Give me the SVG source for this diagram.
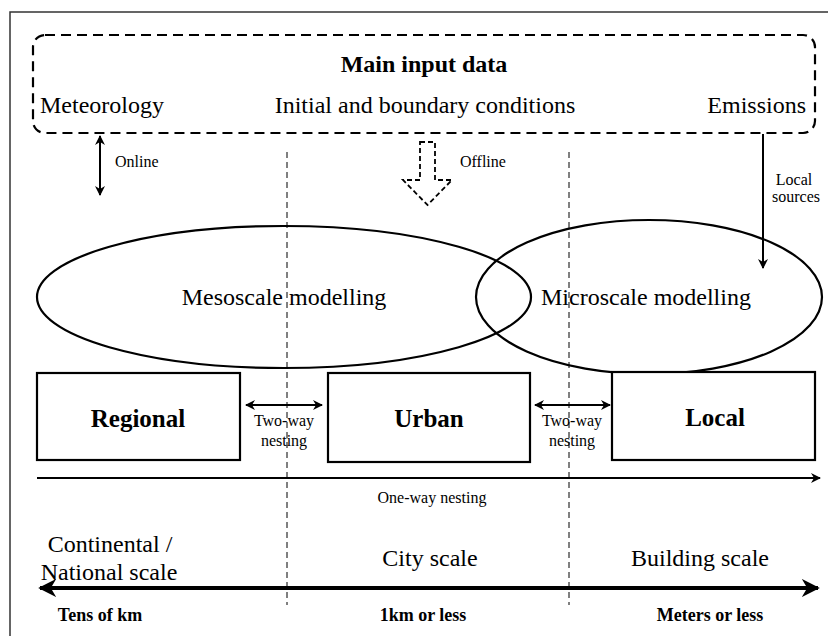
<svg xmlns="http://www.w3.org/2000/svg" width="828" height="636" viewBox="0 0 828 636">
  <defs>
    <style>
      text { font-family: "Liberation Serif", "Times New Roman", serif; fill: #000; }
      .mid { text-anchor: middle; }
      .big { font-size: 24px; }
      .box { font-size: 25px; font-weight: bold; }
      .bold { font-weight: bold; }
      .small { font-size: 16px; }
      .unit { font-size: 18px; font-weight: bold; }
      .shape { fill: #fff; stroke: #000; stroke-width: 2.2; }
      .ell { fill: none; stroke: #000; stroke-width: 2.2; }
      .guide { fill: none; stroke: #000; stroke-width: 1; stroke-dasharray: 6 4; }
      .line { fill: none; stroke: #000; stroke-width: 2; }
    </style>
    <marker id="ah" viewBox="0 0 10 10" refX="9" refY="5" markerWidth="5" markerHeight="5" orient="auto-start-reverse">
      <path d="M0,0 L10,5 L0,10 L3,5 Z" fill="#000"/>
    </marker>
    <marker id="ahBig" viewBox="0 0 10 10" refX="9" refY="5" markerWidth="4.5" markerHeight="4.5" orient="auto-start-reverse">
      <path d="M0,0 L10,5 L0,10 L3,5 Z" fill="#000"/>
    </marker>
  </defs>

  <rect width="828" height="636" fill="#fff"/>
  <!-- outer frame (left and top edges) -->
  <path d="M10,640 L10,12 L832,12" fill="none" stroke="#333" stroke-width="1.5"/>

  <!-- vertical scale separators -->
  <g id="separators">
    <line class="guide" x1="287" y1="152" x2="287" y2="605"/>
    <line class="guide" x1="569" y1="152" x2="569" y2="605"/>
  </g>

  <g id="input-data">
    <rect x="33" y="35" width="782" height="98" rx="12" fill="none" stroke="#000" stroke-width="2.2" stroke-dasharray="10 6"/>
    <text class="mid big bold" x="424" y="72">Main input data</text>
    <text class="big" x="40" y="113">Meteorology</text>
    <text class="mid big" x="425" y="113">Initial and boundary conditions</text>
    <text class="big" x="806" y="113" text-anchor="end">Emissions</text>
  </g>

  <g id="mesoscale">
    <ellipse class="ell" cx="284" cy="297" rx="247" ry="71"/>
    <text class="mid big" x="284" y="305">Mesoscale modelling</text>
  </g>
  <g id="microscale">
    <ellipse class="ell" cx="649" cy="297" rx="173" ry="77"/>
    <text class="mid big" x="646" y="305">Microscale modelling</text>
  </g>

  <g id="regional">
    <rect class="shape" x="37" y="373" width="203" height="87"/>
    <text class="mid box" x="138" y="427">Regional</text>
  </g>
  <g id="urban">
    <rect class="shape" x="328" y="373" width="202" height="89"/>
    <text class="mid box" x="429" y="427">Urban</text>
  </g>
  <g id="local">
    <rect class="shape" x="612" y="372" width="203" height="88"/>
    <text class="mid box" x="715" y="426">Local</text>
  </g>

  <g id="connectors">
    <!-- online coupling -->
    <line class="line" x1="100" y1="136" x2="100" y2="195" marker-start="url(#ah)" marker-end="url(#ah)"/>
    <text class="small" x="115" y="167">Online</text>
    <!-- offline coupling (hollow dashed arrow) -->
    <path d="M420,142 L435,142 L435,180 L452,180 L427.5,205 L403,180 L420,180 Z" fill="#fff" stroke="#000" stroke-width="1.8" stroke-dasharray="5 3"/>
    <text class="small" x="460" y="167">Offline</text>
    <!-- local sources -->
    <line class="line" x1="763" y1="134" x2="763" y2="268" marker-end="url(#ah)"/>
    <text class="mid small" x="794" y="185">Local</text>
    <text class="mid small" x="796" y="202">sources</text>
    <!-- two-way nesting -->
    <line class="line" x1="246" y1="405" x2="322" y2="405" marker-start="url(#ah)" marker-end="url(#ah)"/>
    <text class="mid small" x="284" y="426">Two-way</text>
    <text class="mid small" x="284" y="446">nesting</text>
    <line class="line" x1="535" y1="405" x2="610" y2="405" marker-start="url(#ah)" marker-end="url(#ah)"/>
    <text class="mid small" x="572" y="426">Two-way</text>
    <text class="mid small" x="572" y="446">nesting</text>
    <!-- one-way nesting -->
    <line class="line" x1="37" y1="478" x2="820" y2="478" marker-end="url(#ah)"/>
    <text class="mid small" x="432" y="503">One-way  nesting</text>
    <!-- scale axis -->
    <line x1="40" y1="588" x2="818" y2="588" stroke="#000" stroke-width="4" marker-start="url(#ahBig)" marker-end="url(#ahBig)"/>
  </g>

  <g id="scales">
    <text class="mid big" x="110" y="552">Continental /</text>
    <text class="mid big" x="109" y="580">National scale</text>
    <text class="mid big" x="430" y="566">City scale</text>
    <text class="mid big" x="700" y="566">Building scale</text>
    <text class="mid unit" x="100" y="621">Tens of km</text>
    <text class="mid unit" x="423" y="621">1km or less</text>
    <text class="mid unit" x="710" y="621">Meters or less</text>
  </g>
</svg>
